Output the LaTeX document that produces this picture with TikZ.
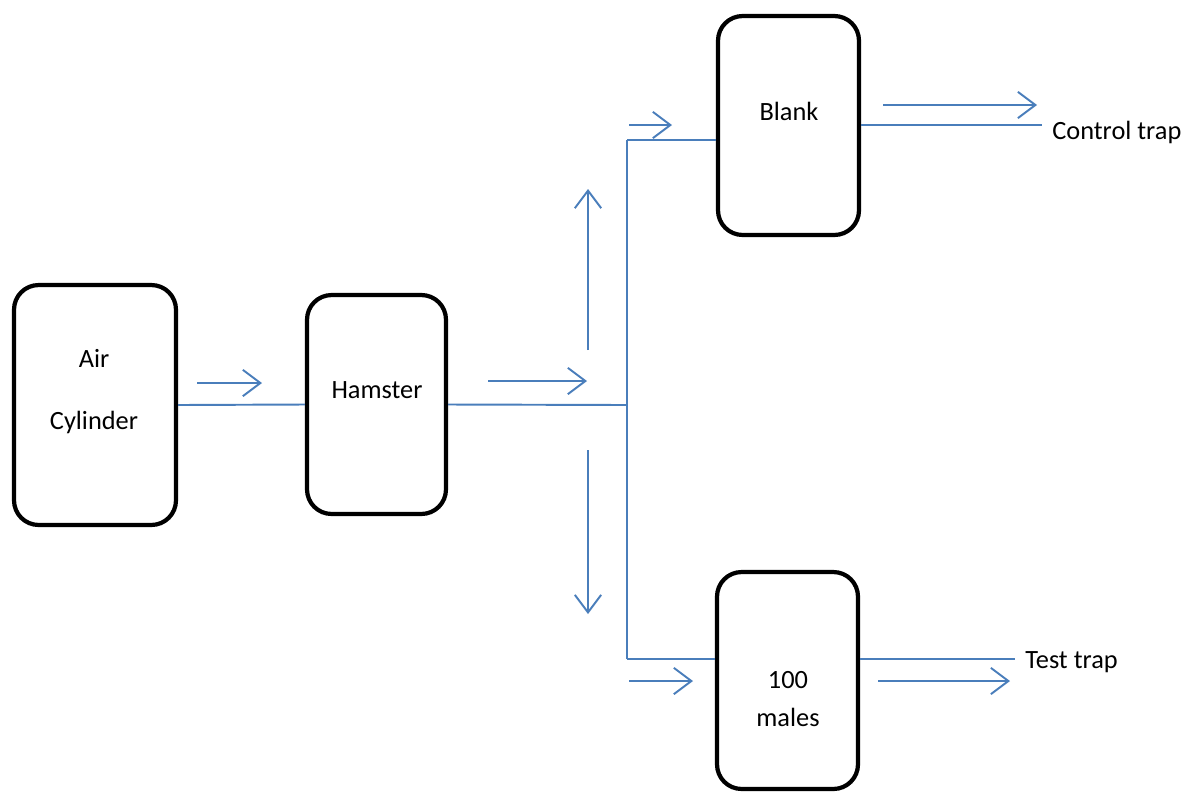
\documentclass[tikz,border=0pt]{standalone}
\usepackage{fontspec}
\setmainfont{Carlito}
\usetikzlibrary{arrows.meta}
\definecolor{flow}{HTML}{4A7EBB}
\begin{document}
\begin{tikzpicture}[x=0.02cm,y=-0.02cm,
  box/.style={draw=black,line width=2.4pt,rounded corners=14pt,inner sep=0pt,minimum width=2.8cm,minimum height=4.38cm},
  pipe/.style={draw=flow,line width=1.1pt},
  flowarrow/.style={draw=flow,line width=1.1pt,-{Straight Barb[length=10pt,width=15pt,line width=1.1pt]}},
  lbl/.style={font=\fontsize{15}{18}\selectfont,inner sep=0pt}]
\useasboundingbox (0,0) rectangle (1200,792);
% boxes
\node[box,minimum width=3.24cm,minimum height=4.8cm] (air) at (95,405) {};
\node[box,minimum width=2.78cm] (ham) at (376.5,404.5) {};
\node[box,minimum width=2.82cm] (blank) at (788.5,125.5) {};
\node[box,minimum width=2.82cm,minimum height=4.34cm] (males) at (787.5,680.5) {};
% texts
\node[lbl] (t1) at (94,358) {Air};
\node[lbl] (t2) at (94,422) {Cylinder};
\node[lbl] (t3) at (377,390) {Hamster};
\node[lbl] (t4) at (789,111) {Blank};
\node[lbl] (t5) at (788,680) {100};
\node[lbl] (t6) at (788,717) {males};
\node[lbl,anchor=west] (ctl) at (1052,132) {Control trap};
\node[lbl,anchor=west] (tst) at (1025,662) {Test trap};
% junction coordinates
\coordinate (j) at (627,405);
\coordinate (jt) at (627,140);
\coordinate (jd) at (627,659);
\coordinate (ce) at (1042,125);
\coordinate (te) at (1015,659);
% pipes
\draw[pipe] (air.east) -- (ham.west);
\draw[pipe] (ham.east) -- (j);
\draw[pipe] (jt) -- (jd);
\draw[pipe] (jt) -- (jt -| blank.west);
\draw[pipe] (jd) -- (jd -| males.west);
\draw[pipe] (blank.east |- ce) -- (ce);
\draw[pipe] (males.east |- te) -- (te);
% flow arrows
\coordinate (a1s) at (197,383); \coordinate (a1e) at (262,383);
\coordinate (a2s) at (488,381); \coordinate (a2e) at (587,381);
\coordinate (a3s) at (588,350); \coordinate (a3e) at (588,189);
\coordinate (a4s) at (588,450); \coordinate (a4e) at (588,614);
\coordinate (a5s) at (629,125); \coordinate (a5e) at (672,125);
\coordinate (a6s) at (629,681); \coordinate (a6e) at (693,681);
\coordinate (a7s) at (883,105); \coordinate (a7e) at (1037,105);
\coordinate (a8s) at (878,681); \coordinate (a8e) at (1010,681);
\draw[flowarrow] (a1s) -- (a1e);
\draw[flowarrow] (a2s) -- (a2e);
\draw[flowarrow] (a3s) -- (a3e);
\draw[flowarrow] (a4s) -- (a4e);
\draw[flowarrow] (a5s) -- (a5e);
\draw[flowarrow] (a6s) -- (a6e);
\draw[flowarrow] (a7s) -- (a7e);
\draw[flowarrow] (a8s) -- (a8e);
\end{tikzpicture}
\end{document}
